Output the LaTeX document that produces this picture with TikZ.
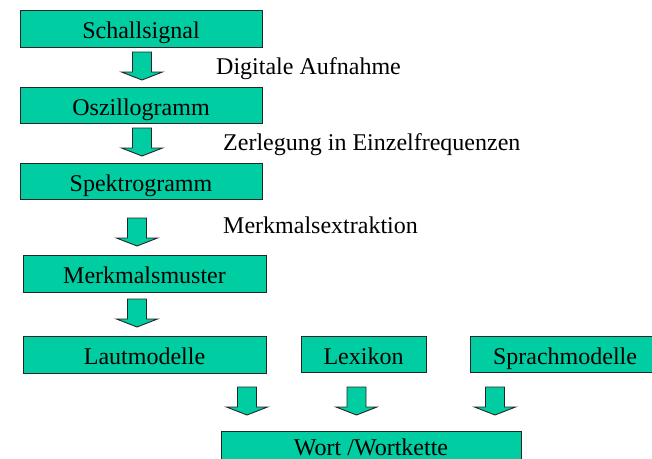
\documentclass[tikz,border=0pt]{standalone}
\usepackage{fontspec}
\setmainfont{Liberation Serif}
\definecolor{mint}{RGB}{0,206,162}
\tikzset{
  stufe/.style={draw=black!85, fill=mint, line width=0.9pt, minimum height=37pt,
    text height=20pt, text depth=0pt, inner sep=0pt, font=\fontsize{24}{28}\selectfont},
  pfeil/.style={draw=black!85, fill=mint, line width=0.9pt, line join=miter},
  schritt/.style={anchor=base west, inner sep=0pt, font=\fontsize{24}{28}\selectfont}
}
\begin{document}
\begin{tikzpicture}[x=1pt, y=-1pt]
\useasboundingbox (0,0) rectangle (652,458);
\clip (0,0) rectangle (652,458);
% Verarbeitungskette
\node[stufe, minimum width=242pt] (schall) at (141,28.5) {Schallsignal};
\node[stufe, minimum width=242pt, minimum height=36pt] (oszi) at (141,105) {Oszillogramm};
\node[stufe, minimum width=242pt, minimum height=36pt] (spektro) at (141,181) {Spektrogramm};
\node[stufe, minimum width=243pt] (muster) at (144.5,273.5) {Merkmalsmuster};
% Modelle
\node[stufe, minimum width=243pt] (laut) at (144.5,354.5) {Lautmodelle};
\node[stufe, minimum width=125pt, minimum height=36pt] (lexikon) at (363.5,354) {Lexikon};
\node[stufe, minimum width=190pt, minimum height=36pt] (sprach) at (565,354) {Sprachmodelle};
% Ergebnis
\node[stufe, minimum width=300pt, minimum height=28pt] (wort) at (371,445) {Wort /Wortkette};
% Beschriftungen
\node[schritt] (digital) at (216,74) {Digitale Aufnahme};
\node[schritt] (zerlegung) at (223,150) {Zerlegung in Einzelfrequenzen};
\node[schritt] (extraktion) at (223,233) {Merkmalsextraktion};
% Blockpfeile
\foreach \x/\y in {142/52, 142/128, 137/218, 137/299, 247/387, 356.5/387, 495/387} {
  \draw[pfeil] (\x,\y) ++(-9.5,0) -- ++(0,20) -- ++(-11,0) -- ++(20.5,8)
    -- ++(20.5,-8) -- ++(-11,0) -- ++(0,-20) -- cycle;
}
\end{tikzpicture}
\end{document}
